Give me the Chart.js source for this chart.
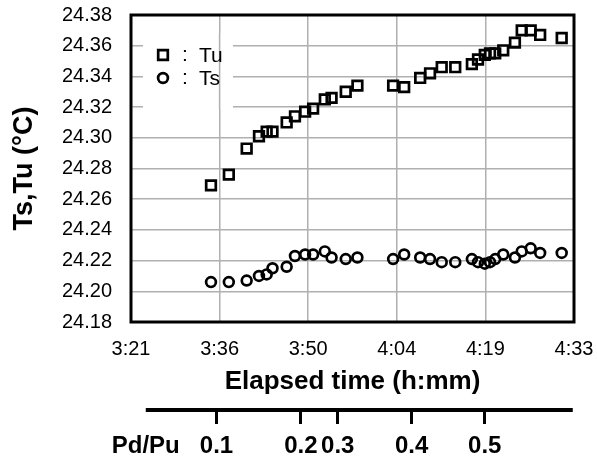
<!DOCTYPE html>
<html>
<head>
<meta charset="utf-8">
<script src="https://cdn.jsdelivr.net/npm/chart.js@4.4.1/dist/chart.umd.min.js"></script>
<style>
  html, body { margin: 0; padding: 0; background: #fff; }
</style>
</head>
<body>
<canvas id="tempChart" width="597" height="459"></canvas>
<script>
// elapsed time of each reading, minutes after midnight (3:21 = 201.6)
const elapsedMin = [214.6, 217.5, 220.4, 222.4, 223.65, 224.6, 226.9, 228.25, 229.9, 231.2,
  233.1, 234.2, 236.5, 238.4, 244.2, 246.0, 248.6, 250.2, 252.1, 254.3,
  257.0, 258.0, 259.1, 259.95, 260.8, 262.1, 264.0, 265.1, 266.56, 268.1, 271.6];

const tuValues = [24.269, 24.276, 24.293, 24.301, 24.304, 24.304, 24.310, 24.314, 24.317, 24.319,
  24.325, 24.326, 24.330, 24.334, 24.334, 24.333, 24.339, 24.342, 24.346, 24.346,
  24.348, 24.351, 24.354, 24.355, 24.355, 24.357, 24.362, 24.370, 24.370, 24.367, 24.365];

const tsValues = [24.206, 24.206, 24.207, 24.210, 24.211, 24.215, 24.216, 24.223, 24.224, 24.224,
  24.226, 24.222, 24.221, 24.222, 24.221, 24.224, 24.222, 24.221, 24.219, 24.219,
  24.221, 24.219, 24.218, 24.219, 24.221, 24.224, 24.222, 24.226, 24.228, 24.225, 24.225];

// x axis ticks (Excel major unit 0.01 day = 14.4 min)
const xTickValues = [201.6, 216.0, 230.4, 244.8, 259.2, 273.6];
const xTickLabels = ['3:21', '3:36', '3:50', '4:04', '4:19', '4:33'];

const yTickValues = [24.18, 24.20, 24.22, 24.24, 24.26, 24.28, 24.30, 24.32, 24.34, 24.36, 24.38];

// pressure ratio scale under the time axis
const pdRatio = ['0.1', '0.2', '0.3', '0.4', '0.5'];
const pdTimeMin = [215.5, 229.2, 235.2, 247.2, 259.1];
const pdLineStart = 204.0;
const pdLineEnd = 273.4;

const FONT = '"Liberation Sans", Arial, sans-serif';
const GRID = '#b0b0b0';
const NONE = 'rgba(0,0,0,0)';

const toPoints = vals => elapsedMin.map((t, i) => ({ x: t, y: vals[i] }));

// legend sits inside the plot, white box over the horizontal grid lines
const insetLegend = {
  id: 'insetLegend',
  beforeDatasetsDraw(chart) {
    const { ctx, chartArea: a, scales } = chart;
    const bx = a.left + 12, by = a.top + 18, bw = 90, bh = 76;
    ctx.save();
    ctx.fillStyle = '#fff';
    ctx.fillRect(bx, by, bw, bh);
    ctx.strokeStyle = GRID;
    ctx.lineWidth = 1.5;
    scales.x.ticks.forEach(t => {
      const px = scales.x.getPixelForValue(t.value);
      if (px > bx && px < bx + bw) {
        ctx.beginPath();
        ctx.moveTo(px, by);
        ctx.lineTo(px, by + bh);
        ctx.stroke();
      }
    });

    ctx.strokeStyle = '#000';
    ctx.fillStyle = '#000';
    ctx.lineWidth = 2.7;
    ctx.font = '21px ' + FONT;
    ctx.textBaseline = 'middle';
    chart.data.datasets.forEach((ds, i) => {
      const mx = a.left + 32, my = a.top + 40 + i * 23;
      ctx.beginPath();
      if (ds.pointStyle === 'rect') {
        const h = Math.SQRT1_2 * ds.pointRadius;
        ctx.rect(mx - h, my - h, 2 * h, 2 * h);
      } else {
        ctx.arc(mx, my, ds.pointRadius, 0, Math.PI * 2);
      }
      ctx.stroke();
      ctx.textAlign = 'center';
      ctx.fillText(':', a.left + 54, my);
      ctx.textAlign = 'left';
      ctx.fillText(ds.label, a.left + 68, my + 1);
    });
    ctx.restore();
  }
};

// thick frame round the plot and the base line of the Pd/Pu scale
const frame = {
  id: 'frame',
  afterDraw(chart) {
    const { ctx, chartArea: a } = chart;
    const x2 = chart.scales.x2;
    ctx.save();
    ctx.strokeStyle = '#000';
    ctx.lineWidth = 3;
    ctx.strokeRect(a.left, a.top, a.right - a.left, a.bottom - a.top);
    ctx.lineWidth = 4;
    ctx.beginPath();
    ctx.moveTo(x2.getPixelForValue(pdLineStart), x2.top);
    ctx.lineTo(x2.getPixelForValue(pdLineEnd), x2.top);
    ctx.stroke();
    ctx.restore();
  }
};

const ctx = document.getElementById('tempChart').getContext('2d');
new Chart(ctx, {
  type: 'scatter',
  data: {
    datasets: [
      {
        label: 'Tu',
        data: toPoints(tuValues),
        pointStyle: 'rect',
        pointRadius: 6.8,
        pointBorderWidth: 2.7,
        pointBorderColor: '#000',
        pointBackgroundColor: NONE,
        xAxisID: 'x',
        yAxisID: 'y'
      },
      {
        label: 'Ts',
        data: toPoints(tsValues),
        pointStyle: 'circle',
        pointRadius: 4.9,
        pointBorderWidth: 2.7,
        pointBorderColor: '#000',
        pointBackgroundColor: NONE,
        xAxisID: 'x',
        yAxisID: 'y'
      }
    ]
  },
  options: {
    responsive: false,
    animation: false,
    layout: { padding: { top: 15, right: 23, left: 0, bottom: 0 } },
    plugins: {
      legend: { display: false },
      tooltip: { enabled: false }
    },
    scales: {
      x: {
        type: 'linear',
        position: 'bottom',
        weight: 0,
        min: xTickValues[0],
        max: xTickValues[xTickValues.length - 1],
        afterBuildTicks: s => { s.ticks = xTickValues.map(v => ({ value: v })); },
        afterFit: s => { s.height = 88; s.paddingLeft = 0; s.paddingRight = 0; },
        ticks: {
          autoSkip: false,
          maxRotation: 0,
          padding: 0,
          color: '#000',
          font: { family: FONT, size: 20 },
          callback: (v, i) => xTickLabels[i]
        },
        grid: { color: GRID, lineWidth: 1.5, drawTicks: true, tickLength: 15, tickColor: NONE },
        border: { display: false },
        title: {
          display: true,
          text: 'Elapsed time (h:mm)',
          color: '#000',
          font: { family: FONT, size: 26, weight: 'bold' },
          padding: { top: 0, bottom: 13 }
        }
      },
      x2: {
        type: 'linear',
        position: 'bottom',
        weight: 1,
        min: xTickValues[0],
        max: xTickValues[xTickValues.length - 1],
        afterBuildTicks: s => {
          s.ticks = [{ value: pdLineStart }].concat(pdTimeMin.map(v => ({ value: v })));
        },
        afterFit: s => { s.height = 49; s.paddingLeft = 0; s.paddingRight = 0; },
        ticks: {
          autoSkip: false,
          maxRotation: 0,
          padding: 8,
          color: '#000',
          font: { family: FONT, size: 24, weight: 'bold' },
          callback: (v, i) => (i === 0 ? 'Pd/Pu' : pdRatio[i - 1])
        },
        grid: {
          drawOnChartArea: false,
          drawTicks: true,
          tickLength: 14,
          tickWidth: 3,
          tickColor: c => (c.index === 0 ? NONE : '#000')
        },
        border: { display: false }
      },
      y: {
        type: 'linear',
        min: 24.18,
        max: 24.38,
        afterBuildTicks: s => { s.ticks = yTickValues.map(v => ({ value: v })); },
        afterFit: s => { s.width = 131; s.paddingTop = 0; s.paddingBottom = 0; },
        ticks: {
          padding: 0,
          color: '#000',
          font: { family: FONT, size: 20 },
          callback: v => v.toFixed(2)
        },
        grid: { color: GRID, lineWidth: 1.5, drawTicks: true, tickLength: 19, tickColor: NONE },
        border: { display: false },
        title: {
          display: true,
          text: 'Ts,Tu (°C)',
          color: '#000',
          font: { family: FONT, size: 27, weight: 'bold' },
          padding: { top: 8, bottom: 0 }
        }
      }
    }
  },
  plugins: [insetLegend, frame]
});
</script>
</body>
</html>
